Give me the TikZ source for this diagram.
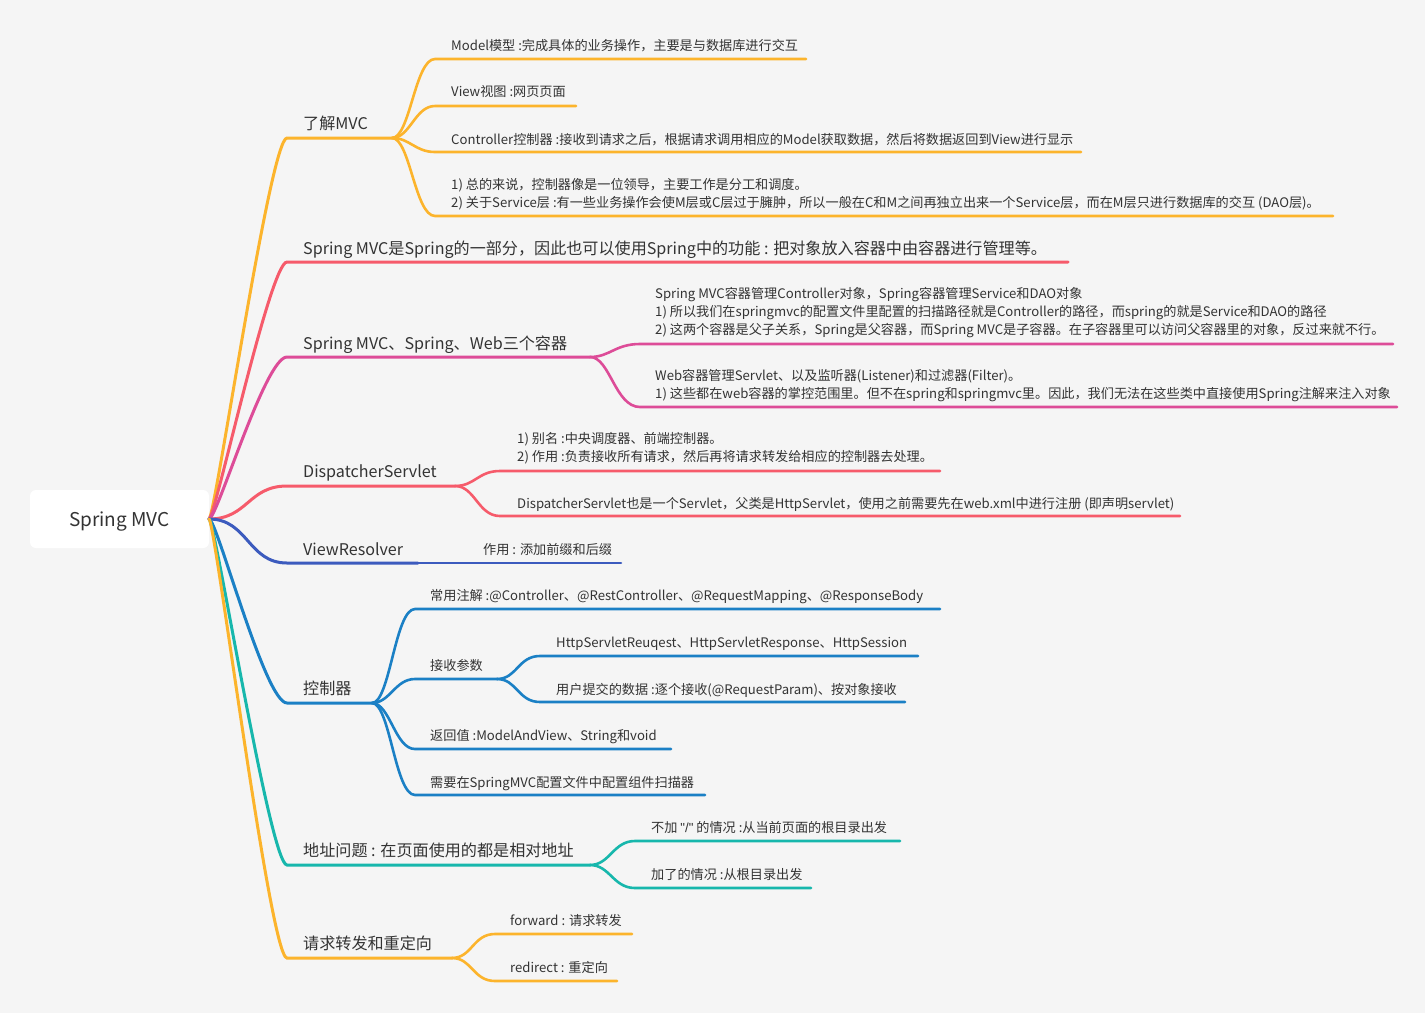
\documentclass[tikz,border=0pt]{standalone}
\usepackage{fontspec}
\setmainfont{Noto Sans CJK SC}
\newfontfamily\latq{Liberation Sans}
\usetikzlibrary{calc}
\definecolor{bg}{HTML}{F5F5F5}
\definecolor{txt}{HTML}{333333}
\definecolor{cY}{HTML}{FCB42C}
\definecolor{cR}{HTML}{F65B6B}
\definecolor{cM}{HTML}{DD4C98}
\definecolor{cN}{HTML}{3C5BBE}
\definecolor{cB}{HTML}{1B80C5}
\definecolor{cT}{HTML}{17B7AC}
\tikzset{
  lt/.style={anchor=base west, inner sep=0pt, text=txt, font=\fontsize{16.1}{18}\selectfont},
  st/.style={anchor=base west, inner sep=0pt, text=txt, font=\fontsize{13.15}{16}\selectfont},
  br/.style={line width=3pt, line cap=round},
  sb/.style={line width=2.6pt, line cap=round},
  bcurve/.style 2 args={to path={.. controls ($(\tikztostart)+(#1,0)$) and ($(\tikztotarget)+(-#2,0)$) .. (\tikztotarget)}},
  rootbox/.style={fill=white, rounded corners=6pt, minimum width=179pt, minimum height=58pt, inner sep=0pt},
  roottext/.style={anchor=base, inner sep=0pt, text=txt, font=\fontsize{19}{20}\selectfont}
}
\begin{document}
\begin{tikzpicture}[x=1pt,y=-1pt]
\fill[bg] (0,0) rectangle (1425,1013);
\useasboundingbox (0,0) rectangle (1425,1013);

% root
\node[rootbox] (root) at (119.5,519) {};
\node[roottext] (rootT) at (119.5,526) {Spring MVC};
\coordinate (r) at (209,519);

% ---------- coordinates ----------
\coordinate (aS) at (287,138); \coordinate (aJ) at (392,138);
\coordinate (bS) at (287,262); \coordinate (bE) at (1068,262);
\coordinate (cS) at (287,357); \coordinate (cJ) at (590,357);
\coordinate (dS) at (287,486); \coordinate (dJ) at (455,486);
\coordinate (eS) at (287,563); \coordinate (eJ) at (418,563);
\coordinate (fS) at (287,703); \coordinate (fJ) at (372,703);
\coordinate (gS) at (287,865); \coordinate (gJ) at (590,865);
\coordinate (hS) at (287,958); \coordinate (hJ) at (452,958);

% ---------- level 1 connectors ----------
\draw[br,cY] (r) to[bcurve={6}{17}] (aS) -- (aJ);
\draw[br,cR] (r) to[bcurve={6}{17}] (bS) -- (bE);
\draw[br,cM] (r) to[bcurve={8}{22}] (cS) -- (cJ);
\draw[br,cR] (r) to[bcurve={39}{39}] (dS) -- (dJ);
\draw[br,cN] (r) to[bcurve={39}{39}] (eS) -- (eJ);
\draw[br,cB] (r) to[bcurve={8}{22}] (fS) -- (fJ);
\draw[br,cT] (r) to[bcurve={6}{17}] (gS) -- (gJ);
\draw[br,cY] (r) to[bcurve={6}{17}] (hS) -- (hJ);

% ---------- level 1 texts ----------
\node[lt] (a) at (303,129) {了解MVC};
\node[lt] (b) at (303,254) {Spring MVC是Spring的一部分，因此也可以使用Spring中的功能 : 把对象放入容器中由容器进行管理等。};
\node[lt] (c) at (303,349) {Spring MVC、Spring、Web三个容器};
\node[lt] (d) at (303,477) {DispatcherServlet};
\node[lt] (e) at (303,555) {ViewResolver};
\node[lt] (f) at (303,694) {控制器};
\node[lt] (g) at (303,856) {地址问题 : 在页面使用的都是相对地址};
\node[lt] (h) at (303,949) {请求转发和重定向};

% ---------- 了解MVC children ----------
\coordinate (a1S) at (435,59);  \coordinate (a1E) at (806,59);
\coordinate (a2S) at (435,106); \coordinate (a2E) at (576,106);
\coordinate (a3S) at (435,152); \coordinate (a3E) at (1081,152);
\coordinate (a4S) at (435,216); \coordinate (a4E) at (1333,216);
\draw[sb,cY] (aJ) to[bcurve={18}{20}] (a1S) -- (a1E);
\draw[sb,cY] (aJ) to[bcurve={18}{20}] (a2S) -- (a2E);
\draw[sb,cY] (aJ) to[bcurve={18}{20}] (a3S) -- (a3E);
\draw[sb,cY] (aJ) to[bcurve={18}{20}] (a4S) -- (a4E);
\node[st] (a1) at (451,50) {Model模型 :完成具体的业务操作，主要是与数据库进行交互};
\node[st] (a2) at (451,96) {View视图 :网页页面};
\node[st] (a3) at (451,144) {Controller控制器 :接收到请求之后，根据请求调用相应的Model获取数据，然后将数据返回到View进行显示};
\node[st] (a4a) at (451,189) {1) 总的来说，控制器像是一位领导，主要工作是分工和调度。};
\node[st] (a4b) at (451,207) {2) 关于Service层 :有一些业务操作会使M层或C层过于臃肿，所以一般在C和M之间再独立出来一个Service层，而在M层只进行数据库的交互 (DAO层)。};

% ---------- 三个容器 children ----------
\coordinate (c1S) at (640,344); \coordinate (c1E) at (1393,344);
\coordinate (c2S) at (640,407); \coordinate (c2E) at (1397,407);
\draw[sb,cM] (cJ) to[bcurve={20}{25}] (c1S) -- (c1E);
\draw[sb,cM] (cJ) to[bcurve={20}{25}] (c2S) -- (c2E);
\node[st] (c1a) at (655,298) {Spring MVC容器管理Controller对象，Spring容器管理Service和DAO对象};
\node[st] (c1b) at (655,316) {1) 所以我们在springmvc的配置文件里配置的扫描路径就是Controller的路径，而spring的就是Service和DAO的路径};
\node[st] (c1c) at (655,334) {2) 这两个容器是父子关系，Spring是父容器，而Spring MVC是子容器。在子容器里可以访问父容器里的对象，反过来就不行。};
\node[st] (c2a) at (655,380) {Web容器管理Servlet、以及监听器(Listener)和过滤器(Filter)。};
\node[st] (c2b) at (655,398) {1) 这些都在web容器的掌控范围里。但不在spring和springmvc里。因此，我们无法在这些类中直接使用Spring注解来注入对象};

% ---------- DispatcherServlet children ----------
\coordinate (d1S) at (500,471); \coordinate (d1E) at (940,471);
\coordinate (d2S) at (500,516); \coordinate (d2E) at (1180,516);
\draw[sb,cR] (dJ) to[bcurve={20}{22}] (d1S) -- (d1E);
\draw[sb,cR] (dJ) to[bcurve={20}{22}] (d2S) -- (d2E);
\node[st] (d1a) at (517,443) {1) 别名 :中央调度器、前端控制器。};
\node[st] (d1b) at (517,461) {2) 作用 :负责接收所有请求，然后再将请求转发给相应的控制器去处理。};
\node[st] (d2) at (517,508) {DispatcherServlet也是一个Servlet，父类是HttpServlet，使用之前需要先在web.xml中进行注册 (即声明servlet)};

% ---------- ViewResolver child ----------
\coordinate (e1E) at (621,563);
\draw[sb,cN] (eJ) -- (e1E);
\node[st] (e1) at (483,554) {作用 : 添加前缀和后缀};

% ---------- 控制器 children ----------
\coordinate (f1S) at (415,609); \coordinate (f1E) at (940,609);
\coordinate (f2S) at (415,679); \coordinate (f2J) at (497,679);
\coordinate (f3S) at (415,749); \coordinate (f3E) at (671,749);
\coordinate (f4S) at (415,795); \coordinate (f4E) at (705,795);
\draw[sb,cB] (fJ) to[bcurve={18}{20}] (f1S) -- (f1E);
\draw[sb,cB] (fJ) to[bcurve={18}{20}] (f2S) -- (f2J);
\draw[sb,cB] (fJ) to[bcurve={18}{20}] (f3S) -- (f3E);
\draw[sb,cB] (fJ) to[bcurve={18}{20}] (f4S) -- (f4E);
\node[st] (f1) at (430,600) {常用注解 :@Controller、@RestController、@RequestMapping、@ResponseBody};
\node[st] (f2) at (430,670) {接收参数};
\node[st] (f3) at (430,740) {返回值 :ModelAndView、String和void};
\node[st] (f4) at (430,787) {需要在SpringMVC配置文件中配置组件扫描器};
\coordinate (f21S) at (540,656); \coordinate (f21E) at (918,656);
\coordinate (f22S) at (540,702); \coordinate (f22E) at (905,702);
\draw[sb,cB] (f2J) to[bcurve={20}{22}] (f21S) -- (f21E);
\draw[sb,cB] (f2J) to[bcurve={20}{22}] (f22S) -- (f22E);
\node[st] (f21) at (556,647) {HttpServletReuqest、HttpServletResponse、HttpSession};
\node[st] (f22) at (556,694) {用户提交的数据 :逐个接收(@RequestParam)、按对象接收};

% ---------- 地址问题 children ----------
\coordinate (g1S) at (635,841); \coordinate (g1E) at (900,841);
\coordinate (g2S) at (635,888); \coordinate (g2E) at (811,888);
\draw[sb,cT] (gJ) to[bcurve={20}{22}] (g1S) -- (g1E);
\draw[sb,cT] (gJ) to[bcurve={20}{22}] (g2S) -- (g2E);
\node[st] (g1) at (651,832) {不加 {\latq\char34/\char34} 的情况 :从当前页面的根目录出发};
\node[st] (g2) at (651,879) {加了的情况 :从根目录出发};

% ---------- 请求转发和重定向 children ----------
\coordinate (h1S) at (495,934); \coordinate (h1E) at (632,934);
\coordinate (h2S) at (495,981); \coordinate (h2E) at (617,981);
\draw[sb,cY] (hJ) to[bcurve={20}{22}] (h1S) -- (h1E);
\draw[sb,cY] (hJ) to[bcurve={20}{22}] (h2S) -- (h2E);
\node[st] (h1) at (510,925) {forward : 请求转发};
\node[st] (h2) at (510,972) {redirect : 重定向};
\end{tikzpicture}
\end{document}
